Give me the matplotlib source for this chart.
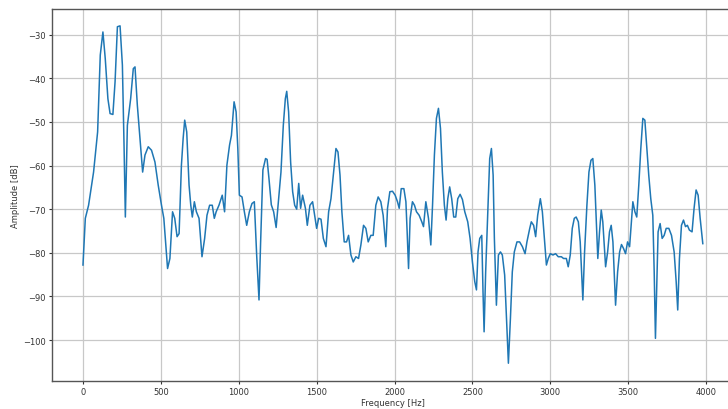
import matplotlib
matplotlib.use("Agg")
import matplotlib.pyplot as plt

# spectrum (Hz, dB)
freq = [0, 15, 36, 68, 94, 111, 128, 143, 160, 174, 192, 206, 221, 238, 253, 264, 272,
        285, 306, 323, 334, 349, 366, 383, 398, 419, 440, 462, 483, 504, 519, 532, 543,
        558, 575, 589, 604, 617, 632, 643, 653, 666, 681, 692, 702, 715, 728, 745, 764,
        781, 796, 813, 830, 843, 855, 873, 894, 909, 924, 941, 953, 970, 983, 994, 1004,
        1021, 1036, 1051, 1068, 1085, 1100, 1115, 1130, 1140, 1155, 1172, 1182, 1194,
        1209, 1224, 1240, 1256, 1271, 1286, 1299, 1308, 1320, 1333, 1346, 1359, 1372,
        1385, 1397, 1410, 1428, 1440, 1457, 1474, 1487, 1500, 1513, 1528, 1543, 1560,
        1577, 1592, 1607, 1624, 1637, 1650, 1662, 1677, 1692, 1705, 1720, 1735, 1752,
        1769, 1784, 1801, 1816, 1831, 1848, 1863, 1880, 1895, 1912, 1927, 1944, 1955,
        1970, 1987, 2004, 2019, 2030, 2043, 2060, 2073, 2081, 2090, 2100, 2115, 2128,
        2141, 2158, 2175, 2186, 2201, 2218, 2233, 2244, 2256, 2269, 2282, 2295, 2307,
        2320, 2331, 2342, 2354, 2367, 2380, 2393, 2406, 2421, 2436, 2451, 2470, 2485,
        2500, 2515, 2526, 2536, 2547, 2560, 2568, 2575, 2585, 2600, 2611, 2622, 2633,
        2641, 2654, 2667, 2680, 2692, 2707, 2718, 2731, 2744, 2756, 2769, 2786, 2803,
        2821, 2838, 2850, 2868, 2878, 2893, 2906, 2919, 2936, 2949, 2962, 2975, 2987,
        3000, 3017, 3034, 3051, 3071, 3085, 3103, 3115, 3128, 3141, 3154, 3166, 3180,
        3192, 3201, 3209, 3220, 3235, 3248, 3261, 3273, 3286, 3294, 3305, 3316, 3327,
        3337, 3346, 3355, 3368, 3380, 3391, 3402, 3410, 3419, 3432, 3445, 3457, 3470,
        3483, 3496, 3509, 3519, 3530, 3543, 3555, 3568, 3581, 3594, 3607, 3620, 3632,
        3645, 3658, 3667, 3675, 3684, 3692, 3705, 3718, 3731, 3744, 3761, 3778, 3795,
        3808, 3818, 3829, 3842, 3855, 3868, 3880, 3893, 3910, 3923, 3936, 3949, 3962,
        3979]
amp = [-82.8, -72.1, -69.1, -61.5, -52.3, -34.7, -29.4, -35.5, -44.7, -48.1, -48.3,
       -40.8, -28.2, -28.0, -37.0, -56.1, -71.8, -50.8, -44.7, -37.8, -37.4, -46.2,
       -53.8, -61.5, -57.6, -55.7, -56.5, -59.2, -64.5, -69.1, -72.1, -78.2, -83.6,
       -81.3, -70.6, -72.1, -76.3, -75.6, -59.9, -53.8, -49.6, -52.3, -64.5, -69.1,
       -71.8, -68.3, -70.6, -72.1, -80.9, -76.7, -71.4, -69.1, -69.1, -72.1, -70.6,
       -69.1, -66.8, -70.6, -59.9, -55.3, -53.1, -45.4, -47.7, -56.1, -66.8, -67.2,
       -70.6, -73.7, -70.6, -68.7, -68.3, -80.5, -90.8, -78.0, -61.0, -58.4, -58.6,
       -63.0, -69.0, -70.6, -74.2, -67.6, -61.5, -50.8, -44.7, -43.0, -47.7, -59.2,
       -66.0, -69.1, -70.0, -64.1, -69.8, -66.8, -69.8, -73.7, -69.1, -68.3, -71.4,
       -74.4, -72.1, -72.3, -76.7, -78.6, -70.6, -67.6, -62.2, -56.1, -56.9, -62.2,
       -70.6, -77.5, -77.5, -76.0, -80.5, -82.1, -80.9, -81.3, -78.2, -73.7, -74.4,
       -77.5, -76.0, -76.0, -69.1, -67.2, -68.3, -71.4, -78.6, -69.8, -66.0, -65.9,
       -66.8, -68.3, -69.8, -65.3, -65.3, -68.3, -75.2, -83.6, -72.1, -68.3, -69.1,
       -70.6, -71.4, -72.9, -74.0, -68.3, -72.1, -78.2, -69.1, -57.6, -49.2, -46.9,
       -51.5, -61.5, -69.1, -72.5, -67.6, -64.9, -67.6, -71.8, -71.8, -67.6, -66.6,
       -67.8, -70.6, -72.9, -76.7, -82.1, -86.6, -88.5, -79.8, -76.7, -76.0, -88.9,
       -98.1, -84.4, -69.1, -58.4, -56.1, -62.2, -76.7, -92.0, -80.5, -79.8, -80.5,
       -85.1, -94.3, -105.3, -95.0, -84.4, -79.8, -77.5, -77.5, -78.6, -80.2, -77.5,
       -74.4, -72.9, -73.7, -76.3, -71.4, -67.6, -70.6, -76.7, -82.8, -81.3, -80.2,
       -80.5, -80.2, -80.9, -80.9, -81.3, -81.3, -83.2, -80.5, -74.4, -72.1, -71.8,
       -72.9, -77.5, -84.4, -90.8, -79.8, -69.1, -61.5, -58.8, -58.4, -64.5, -71.4,
       -81.3, -75.2, -70.2, -72.9, -78.2, -83.2, -79.8, -75.2, -73.7, -77.5, -84.4,
       -92.0, -84.4, -79.8, -78.1, -79.0, -80.2, -77.5, -78.6, -73.7, -68.3, -70.6,
       -71.8, -64.5, -56.1, -49.2, -49.6, -56.1, -62.2, -67.6, -71.4, -84.4, -99.6,
       -86.6, -75.2, -73.3, -76.7, -76.0, -74.4, -74.4, -76.0, -79.8, -86.6, -93.1,
       -81.3, -73.7, -72.5, -74.0, -73.7, -74.8, -75.2, -69.8, -65.6, -66.8, -72.1,
       -77.9]

fig = plt.figure(figsize=(7.28, 4.10), dpi=100)
ax = fig.add_axes([0.0714, 0.068, 0.937, 0.908])
ax.plot(freq, amp, color='#1f77b4', linewidth=1.1)
ax.set_xlim(-199, 4180)
ax.set_ylim(-109.4, -24.1)
ax.set_xticks([0, 500, 1000, 1500, 2000, 2500, 3000, 3500, 4000])
ax.set_yticks([-30, -40, -50, -60, -70, -80, -90, -100])
ax.tick_params(labelsize=6, colors='#333333', length=2.5, pad=2)
ax.set_xlabel('Frequency [Hz]', fontsize=6, labelpad=1, color='#333333')
ax.set_ylabel('Amplitude [dB]', fontsize=6, labelpad=2, color='#333333')
ax.grid(True, color='#c8c8c8', linewidth=0.9)
for s in ax.spines.values():
    s.set_color('#555555')
    s.set_linewidth(1.0)

plt.savefig('out.png', dpi=100)
